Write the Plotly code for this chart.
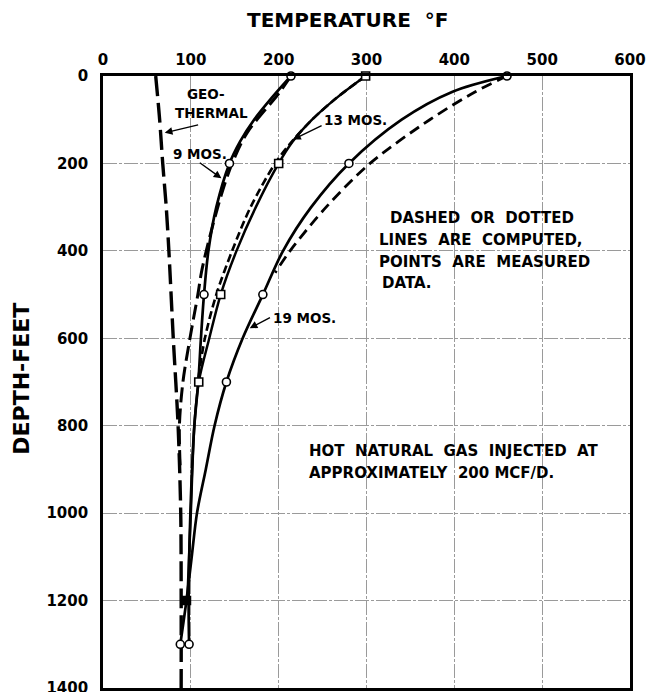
import plotly.graph_objects as go

# ---------------- data ----------------
geo_depth = [0, 100, 200, 300, 400, 600, 800, 1000, 1200, 1400]
geo_temp = [60, 64.5, 68, 72, 75, 80, 85.5, 88.5, 89, 89]

m9_curve_depth = [0, 50, 100, 150, 200, 300, 400, 500, 600, 700, 800, 1000, 1200, 1300]
m9_curve_temp = [214, 192, 172, 156, 144, 129, 120, 115, 111.5, 108.5, 104, 99.5, 97.5, 98]
m9_calc_depth = [0, 40, 130, 200, 270, 380, 450, 500, 600, 700, 800, 900]
m9_calc_temp = [214, 200, 164, 147, 135, 120, 112, 108, 99, 91, 87, 88]
m9_pts_depth = [0, 200, 500, 1300]
m9_pts_temp = [214, 144, 115, 98]

m13_curve_depth = [0, 50, 100, 150, 200, 300, 400, 500, 600, 700, 800, 1000, 1200]
m13_curve_temp = [299, 266, 238, 216, 200, 174, 152, 134, 121, 109, 104, 100, 96]
m13_calc_depth = [0, 50, 100, 150, 200, 300, 400, 500, 600, 700]
m13_calc_temp = [299, 266, 238, 215, 196, 168, 147, 129, 116, 108]
m13_pts_depth = [0, 200, 500, 700, 1200]
m13_pts_temp = [299, 200, 134, 109, 95]

m19_curve_depth = [0, 36, 100, 200, 300, 400, 500, 600, 700, 800, 900, 1000, 1100, 1200, 1300]
m19_curve_temp = [460, 398, 340, 280, 237, 205, 182, 159, 140.5, 127, 117, 107, 101, 95, 88]
m19_calc_depth = [0, 36, 100, 200, 300, 400, 450]
m19_calc_temp = [460, 424, 372, 304, 254, 213, 196]
m19_pts_depth = [0, 200, 500, 700, 1300]
m19_pts_temp = [460, 280, 182, 140.5, 88]

x_ticks = [0, 100, 200, 300, 400, 500, 600]
y_ticks = [0, 200, 400, 600, 800, 1000, 1200, 1400]

# ---------------- figure ----------------
# The page body keeps its default 8px margin, so the figure is drawn 8px in
# from the top-left corner; its size is reduced to match.
FONT = "DejaVu Sans"
fig = go.Figure()


def line(x, y, width, dash="solid"):
    fig.add_trace(go.Scatter(x=x, y=y, mode="lines",
                             line=dict(color="black", width=width, dash=dash,
                                       shape="spline", smoothing=0.9),
                             showlegend=False, hoverinfo="skip"))


def pts(x, y, symbol, fill="white"):
    fig.add_trace(go.Scatter(x=x, y=y, mode="markers",
                             marker=dict(symbol=symbol, size=8, color=fill,
                                         line=dict(color="black", width=1.6)),
                             showlegend=False, cliponaxis=False))


line(geo_temp, geo_depth, 3.4, "20px,7px")
line(m9_calc_temp, m9_calc_depth, 3.0, "15px,6px")
line(m13_calc_temp, m13_calc_depth, 2.6, "8px,4px")
line(m19_calc_temp, m19_calc_depth, 2.8, "11px,6px")
line(m9_curve_temp, m9_curve_depth, 2.7)
line(m13_curve_temp, m13_curve_depth, 2.5)
line(m19_curve_temp, m19_curve_depth, 2.7)
pts(m9_pts_temp, m9_pts_depth, "circle")
pts(m13_pts_temp, m13_pts_depth, "square",
    ["white", "white", "white", "white", "black"])
pts(m19_pts_temp, m19_pts_depth, "circle")

tick_font = dict(family=FONT, size=15, color="black", weight="bold")
txt_font = dict(family=FONT, size=15, color="black", weight="bold")
lbl_font = dict(family=FONT, size=13.5, color="black", weight="bold")

fig.update_xaxes(range=[0, 600], side="top", tickvals=x_ticks,
                 ticktext=[str(v) for v in x_ticks], tickfont=tick_font,
                 ticks="", ticklabelstandoff=2, ticklabeloverflow="allow",
                 showgrid=True, gridcolor="#9a9a9a", gridwidth=1,
                 griddash="14px,2px,3px,2px",
                 showline=True, linecolor="black", linewidth=2.6, mirror=True,
                 zeroline=False, automargin=False, fixedrange=True)
fig.update_yaxes(range=[1400, 0], tickvals=y_ticks,
                 ticktext=[str(v) for v in y_ticks], tickfont=tick_font,
                 ticks="", ticklabelstandoff=9, ticklabeloverflow="allow",
                 showgrid=True, gridcolor="#9a9a9a", gridwidth=1,
                 griddash="14px,2px,3px,2px",
                 showline=True, linecolor="black", linewidth=2.6, mirror=True,
                 zeroline=False, automargin=False, fixedrange=True)

ann = []


def text(t, x, y, font=txt_font, xanchor="center"):
    ann.append(dict(text=t, x=x, y=y, xref="x", yref="y", showarrow=False,
                    font=font, xanchor=xanchor, yanchor="middle"))


def arrow(x0, y0, x1, y1):
    ann.append(dict(text="", x=x1, y=y1, ax=x0, ay=y0, xref="x", yref="y",
                    axref="x", ayref="y", showarrow=True, arrowhead=2,
                    arrowsize=1.1, arrowwidth=1.4, arrowcolor="black"))


text("GEO-", 117.8, 42, lbl_font)
text("THERMAL", 123.5, 85, lbl_font)
text("9 MOS.", 110, 179, lbl_font)
text("13 MOS.", 288, 101, lbl_font)
text("19 MOS.", 229, 554, lbl_font)
arrow(110, 111, 70.3, 130)
arrow(108.5, 196, 134.8, 234)
arrow(250.6, 112, 216.4, 145)
arrow(191.8, 551, 167, 577)

text("DASHED  OR  DOTTED", 324.3, 324, xanchor="left")
text("LINES  ARE  COMPUTED,", 311.7, 375, xanchor="left")
text("POINTS  ARE  MEASURED", 311.7, 426.3, xanchor="left")
text("DATA.", 315, 474.4, xanchor="left")
text("HOT  NATURAL  GAS  INJECTED  AT", 232, 858, xanchor="left")
text("APPROXIMATELY  200 MCF/D.", 232, 908.5, xanchor="left")

ann.append(dict(text="TEMPERATURE  °F", x=0.463, y=1.0915, xref="paper",
                yref="paper", showarrow=False, xanchor="center",
                yanchor="middle",
                font=dict(family=FONT, size=20, color="black", weight="bold")))
ann.append(dict(text="DEPTH-FEET", x=-0.154, y=0.505, xref="paper",
                yref="paper", showarrow=False, textangle=-90,
                xanchor="center", yanchor="middle",
                font=dict(family=FONT, size=22, color="black", weight="bold")))

fig.update_layout(width=649, height=684,
                  margin=dict(l=95, r=27, t=68, b=4, pad=0),
                  paper_bgcolor="white", plot_bgcolor="white",
                  annotations=ann, showlegend=False)

fig.write_html("out.html")
